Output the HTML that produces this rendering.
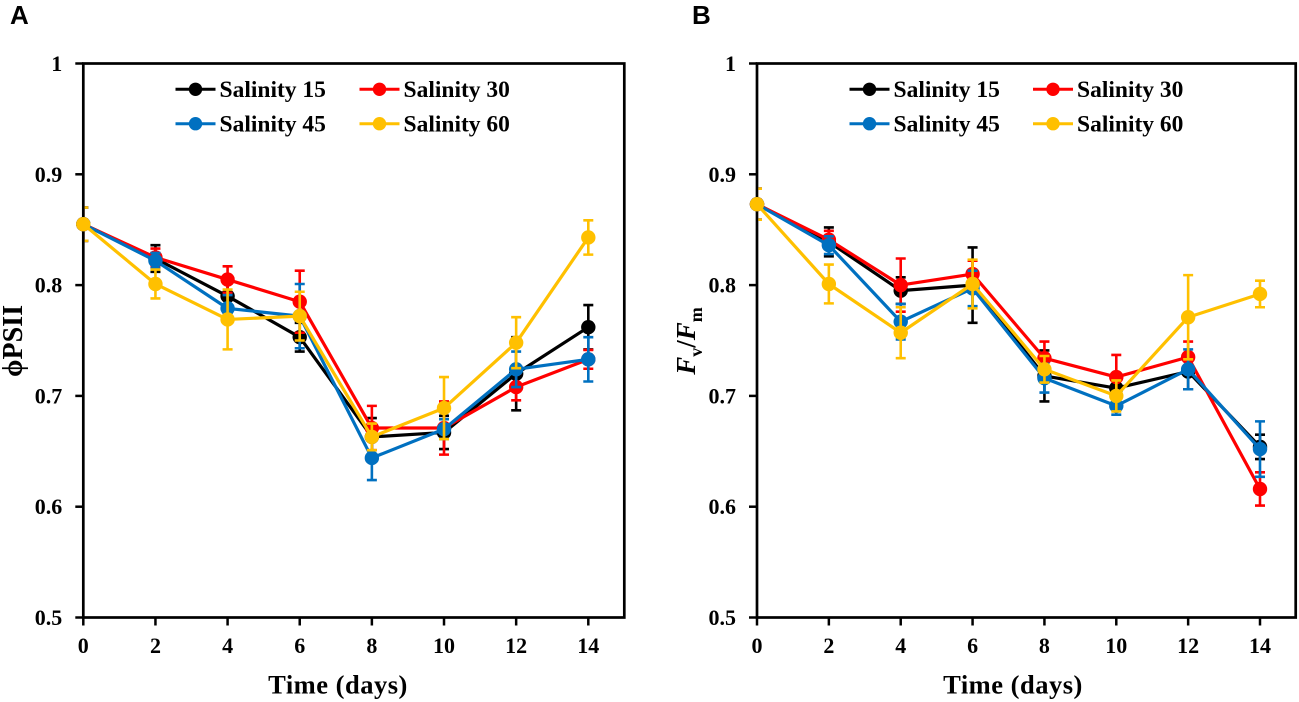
<!DOCTYPE html>
<html>
<head>
<meta charset="utf-8">
<title>Salinity charts</title>
<style>
html,body{margin:0;padding:0;background:#fff;width:1299px;height:702px;overflow:hidden}
svg{display:block}
text{font-family:"Liberation Serif",serif;font-weight:bold;fill:#000}
.panel{font-family:"Liberation Sans",sans-serif;font-size:26px}
.tick{font-size:22px}
.leg{font-size:23.5px}
.title{font-size:26.5px}
</style>
</head>
<body>
<svg id="chart" width="1299" height="702" viewBox="0 0 1299 702" xmlns="http://www.w3.org/2000/svg">
<text class="panel" x="10" y="24">A</text>
<text class="panel" x="692" y="24">B</text>
<text transform="translate(22,341) rotate(-90)" text-anchor="middle" style="font-size:28px">ϕPSII</text>
<text transform="translate(695,341) rotate(-90)" text-anchor="middle" style="font-size:27px"><tspan font-style="italic">F</tspan><tspan dy="7" style="font-size:18px">v</tspan><tspan dy="-7">/</tspan><tspan font-style="italic">F</tspan><tspan dy="7" style="font-size:18px">m</tspan></text>
</svg>
<script>
var days = [0, 2, 4, 6, 8, 10, 12, 14];
var yTickLabels = ['0.5', '0.6', '0.7', '0.8', '0.9', '1'];
var yTickValues = [0.5, 0.6, 0.7, 0.8, 0.9, 1];
var seriesNames = ['Salinity 15', 'Salinity 30', 'Salinity 45', 'Salinity 60'];
var seriesColors = ['#000000', '#ff0000', '#0070c0', '#ffc000'];

var phiS15 = [0.855, 0.824, 0.790, 0.753, 0.663, 0.667, 0.720, 0.762];
var phiS30 = [0.855, 0.825, 0.805, 0.785, 0.671, 0.671, 0.708, 0.733];
var phiS45 = [0.855, 0.822, 0.779, 0.772, 0.644, 0.670, 0.724, 0.733];
var phiS60 = [0.855, 0.801, 0.769, 0.772, 0.663, 0.689, 0.748, 0.843];
var phiErrS15 = [0.015, 0.012, 0.015, 0.013, 0.017, 0.015, 0.033, 0.020];
var phiErrS30 = [0.015, 0.008, 0.012, 0.028, 0.020, 0.024, 0.012, 0.0085];
var phiErrS45 = [0.015, 0.007, 0.012, 0.029, 0.020, 0.009, 0.016, 0.020];
var phiErrS60 = [0.015, 0.013, 0.027, 0.022, 0.012, 0.028, 0.023, 0.0155];

var fvS15 = [0.873, 0.839, 0.795, 0.800, 0.718, 0.707, 0.722, 0.654];
var fvS30 = [0.873, 0.841, 0.800, 0.810, 0.734, 0.717, 0.735, 0.616];
var fvS45 = [0.873, 0.836, 0.767, 0.797, 0.716, 0.691, 0.724, 0.652];
var fvS60 = [0.873, 0.801, 0.757, 0.801, 0.724, 0.700, 0.771, 0.792];
var fvErrS15 = [0.014, 0.013, 0.012, 0.034, 0.023, 0.012, 0.016, 0.011];
var fvErrS30 = [0.014, 0.008, 0.024, 0.012, 0.015, 0.020, 0.014, 0.015];
var fvErrS45 = [0.014, 0.008, 0.016, 0.016, 0.013, 0.008, 0.018, 0.025];
var fvErrS60 = [0.014, 0.0175, 0.023, 0.022, 0.012, 0.014, 0.038, 0.012];

var NS = 'http://www.w3.org/2000/svg';
var svg = document.getElementById('chart');

function mk(tag, attrs, parent) {
  var e = document.createElementNS(NS, tag);
  for (var k in attrs) e.setAttribute(k, attrs[k]);
  (parent || svg).appendChild(e);
  return e;
}

function drawPanel(prefix, left, right, zeroX, dayEndX, vals, errs, legX1, legX2, titleX) {
  var top = 63.5, bottom = 617.5;
  function xs(d) { return zeroX + (dayEndX - zeroX) * d / days[days.length - 1]; }
  function ys(v) { return bottom - (bottom - top) * (v - 0.5) / 0.5; }

  var defs = mk('defs', {});
  var clip = mk('clipPath', {id: prefix + '-clip'}, defs);
  mk('rect', {x: left + 1.35, y: top, width: right - left, height: bottom - top}, clip);

  var frame = mk('rect', {x: left, y: top, width: right - left, height: bottom - top, fill: 'none', stroke: '#000', 'stroke-width': 2.7});
  
  

  yTickValues.forEach(function (v, i) {
    var t = mk('line', {x1: left - 8, x2: left, y1: ys(v), y2: ys(v), stroke: '#000', 'stroke-width': 2.5});
    
    
    var l = mk('text', {x: left - 21, y: ys(v) + 7.5, 'text-anchor': 'end', 'class': 'tick'});
    l.textContent = yTickLabels[i];
    
    
  });

  days.forEach(function (d) {
    var t = mk('line', {x1: xs(d), x2: xs(d), y1: bottom, y2: bottom + 8, stroke: '#000', 'stroke-width': 2.5});
    
    
    var l = mk('text', {x: xs(d), y: 653, 'text-anchor': 'middle', 'class': 'tick'});
    l.textContent = String(d);
    
    
  });

  var xt = mk('text', {x: titleX, y: 693.3, 'text-anchor': 'middle', 'class': 'title', 'letter-spacing': '0.5'});
  xt.textContent = 'Time (days)';
  
  

  vals.forEach(function (series, s) {
    var c = seriesColors[s];
    var g = mk('g', {});
    
    
    var eg = mk('g', {'clip-path': 'url(#' + prefix + '-clip)'}, g);
    series.forEach(function (v, i) {
      var x = xs(days[i]);
      var hi = ys(v + errs[s][i]), lo = ys(v - errs[s][i]);
      var eb = mk('path', {d: 'M' + x + ' ' + hi + 'V' + lo + 'M' + (x - 5) + ' ' + hi + 'H' + (x + 5) + 'M' + (x - 5) + ' ' + lo + 'H' + (x + 5), stroke: c, 'stroke-width': 2.6, fill: 'none'}, eg);
      
      
    });
    var pts = series.map(function (v, i) { return xs(days[i]) + ',' + ys(v); }).join(' ');
    var pl = mk('polyline', {points: pts, fill: 'none', stroke: c, 'stroke-width': 3.2, 'stroke-linejoin': 'round'}, g);
    
    
    series.forEach(function (v, i) {
      var m = mk('circle', {cx: xs(days[i]), cy: ys(v), r: 7.2, fill: c}, g);
      
      
    });
  });

  seriesNames.forEach(function (name, s) {
    var lx = s % 2 === 0 ? legX1 : legX2;
    var ly = s < 2 ? 89.3 : 123.7;
    var g = mk('g', {});
    
    
    mk('line', {x1: lx, x2: lx + 40, y1: ly, y2: ly, stroke: seriesColors[s], 'stroke-width': 3}, g);
    mk('circle', {cx: lx + 20, cy: ly, r: 6.7, fill: seriesColors[s]}, g);
    var t = mk('text', {x: lx + 44, y: ly + 7.8, 'class': 'leg'}, g);
    t.textContent = name;
  });
}

drawPanel('phi', 83.3, 624.3, 83.3, 588.3,
  [phiS15, phiS30, phiS45, phiS60],
  [phiErrS15, phiErrS30, phiErrS45, phiErrS60], 175.5, 359.5, 338);
drawPanel('fvfm', 757, 1295.7, 757, 1260,
  [fvS15, fvS30, fvS45, fvS60],
  [fvErrS15, fvErrS30, fvErrS45, fvErrS60], 849.5, 1033, 1013);
</script>
</body>
</html>
